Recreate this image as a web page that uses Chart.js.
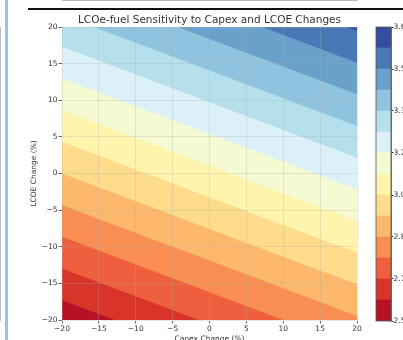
<!DOCTYPE html>
<html><head><meta charset="utf-8">
<script src="https://cdn.jsdelivr.net/npm/chart.js@4.4.0/dist/chart.umd.min.js"></script>
<style>
html,body{margin:0;padding:0;background:#fff;overflow:hidden;width:403px;height:340px;}
#wrap{position:relative;width:403px;height:340px;overflow:hidden;}
#leftbar{position:absolute;left:5px;top:0;width:3px;height:340px;background:#8fc5e6;}
#topline{position:absolute;left:28px;top:8px;width:375px;height:2px;background:#111;}
#main{position:absolute;left:0;top:0;}
#cbar{position:absolute;left:368px;top:0;}
</style></head><body>
<div id="wrap">
<div id="leftbar"></div><div id="topline"></div>
<canvas id="main" width="365" height="344"></canvas>
<canvas id="cbar" width="70" height="340"></canvas>
</div>
<script>
// ---- data ----
const capexChange = [-20, -10, 0, 10, 20];      // x grid (%)
const lcoeChange  = [-20, -10, 0, 10, 20];      // y grid (%)
// LCOe-fuel values, rows = lcoeChange, columns = capexChange
const lcoeFuel = [
  [2.600, 2.670, 2.740, 2.810, 2.880],
  [2.785, 2.855, 2.925, 2.995, 3.065],
  [2.970, 3.040, 3.110, 3.180, 3.250],
  [3.155, 3.225, 3.295, 3.365, 3.435],
  [3.340, 3.410, 3.480, 3.550, 3.620]
];
const levels = [2.57, 2.65, 2.73, 2.81, 2.89, 2.97, 3.05, 3.13, 3.21, 3.29, 3.37, 3.45, 3.53, 3.61, 3.69];
const axisTicks = [-20, -15, -10, -5, 0, 5, 10, 15, 20];
const titleText = 'LCOe-fuel Sensitivity to Capex and LCOE Changes';
const xTitle = 'Capex Change (%)';
const yTitle = 'LCOE Change (%)';

// ---- RdYlBu colormap ----
const RdYlBu = [[165,0,38],[215,48,39],[244,109,67],[253,174,97],[254,224,144],[255,255,191],
                [224,243,248],[171,217,233],[116,173,209],[69,117,180],[49,54,149]];
function cmap(t){
  const p = Math.max(0, Math.min(1, t)) * (RdYlBu.length - 1);
  const i = Math.min(Math.floor(p), RdYlBu.length - 2), f = p - i;
  const c = RdYlBu[i].map((v, j) => Math.round(v + (RdYlBu[i+1][j] - v) * f));
  return `rgb(${c[0]},${c[1]},${c[2]})`;
}
const nBands = levels.length - 1;
const bandColor = k => cmap((k + 0.5) / nBands);

// y where the column i crosses level L (linear along the column)
function crossY(i, L){
  const col = lcoeFuel.map(r => r[i]);
  let j = 0;
  while (j < col.length - 2 && L > col[j+1]) j++;
  return lcoeChange[j] + (L - col[j]) * (lcoeChange[j+1] - lcoeChange[j]) / (col[j+1] - col[j]);
}

const FONT = 'DejaVu Sans';
const TXT = '#333';
const fmt = v => (v < 0 ? '\u2212' : '') + Math.abs(v);

const datasets = levels.slice(0, -1).map((L, k) => ({
  data: capexChange.map((x, i) => ({x, y: crossY(i, L)})),
  fill: 'end',
  backgroundColor: bandColor(k),
  borderColor: 'rgba(0,0,0,0)',
  borderWidth: 0,
  pointRadius: 0,
  tension: 0,
  order: 100 - k
}));

new Chart(document.getElementById('main'), {
  type: 'line',
  data: {datasets},
  options: {
    responsive: false, animation: false, events: [],
    layout: {padding: {left: 0, right: 8, top: 0, bottom: 0}},
    plugins: {
      legend: {display: false}, tooltip: {enabled: false},
      title: {display: true, text: titleText, fullSize: false, color: TXT,
              font: {family: FONT, size: 10.5, weight: 'normal'}, padding: {top: 14, bottom: 0.4}}
    },
    scales: {
      x: {type: 'linear', min: -20, max: 20,
          afterBuildTicks: s => { s.ticks = axisTicks.map(v => ({value: v})); },
          afterFit: s => { s.height = 24; },
          ticks: {callback: fmt, color: TXT, font: {family: FONT, size: 7.5}, padding: 1, maxRotation: 0},
          grid: {color: 'rgba(170,170,170,0.35)', lineWidth: 0.8, z: 1, tickLength: 3.5, tickColor: '#444'},
          border: {display: true, color: '#555', width: 0.8},
          title: {display: true, text: xTitle, color: TXT, font: {family: FONT, size: 7.5}, padding: {top: 0, bottom: 0}}
      },
      y: {type: 'linear', min: -20, max: 20,
          afterBuildTicks: s => { s.ticks = axisTicks.map(v => ({value: v})); },
          afterFit: s => { s.width = 62; },
          ticks: {callback: fmt, color: TXT, font: {family: FONT, size: 7.5}, padding: 1},
          grid: {color: 'rgba(170,170,170,0.35)', lineWidth: 0.8, z: 1, tickLength: 3.5, tickColor: '#444'},
          border: {display: true, color: '#555', width: 0.8},
          title: {display: true, text: yTitle, color: TXT, font: {family: FONT, size: 7.5}, padding: {top: 30, bottom: 0}}
      }
    }
  }
});

const frame = {id: 'frame', afterDraw(c){
  const a = c.chartArea, ctx = c.ctx;
  ctx.save(); ctx.strokeStyle = '#555'; ctx.lineWidth = 0.8;
  ctx.strokeRect(a.left, a.top, a.right - a.left, a.bottom - a.top); ctx.restore();
}};

new Chart(document.getElementById('cbar'), {
  type: 'bar',
  data: {labels: [''], datasets: levels.slice(0, -1).map((L, k) => ({
    data: [[L, levels[k+1]]], backgroundColor: bandColor(k), borderWidth: 0,
    grouped: false, barPercentage: 1, categoryPercentage: 1
  }))},
  options: {
    responsive: false, animation: false, events: [],
    layout: {padding: {left: 8, top: 27, bottom: 19, right: 0}},
    plugins: {legend: {display: false}, tooltip: {enabled: false}},
    scales: {
      x: {display: false},
      y: {position: 'right', min: levels[0], max: levels[levels.length-1],
          afterBuildTicks: s => { s.ticks = levels.filter((_, i) => i % 2 === 0).map(v => ({value: v})); },
          afterFit: s => { s.width = 47; },
          ticks: {callback: v => v.toFixed(2), color: TXT, font: {family: FONT, size: 7.5}, padding: 0},
          grid: {display: true, drawOnChartArea: false, tickLength: 2.5, tickColor: '#333'},
          border: {display: true, color: '#555', width: 0.8}
      }
    }
  },
  plugins: [frame]
});
</script>
</body></html>
